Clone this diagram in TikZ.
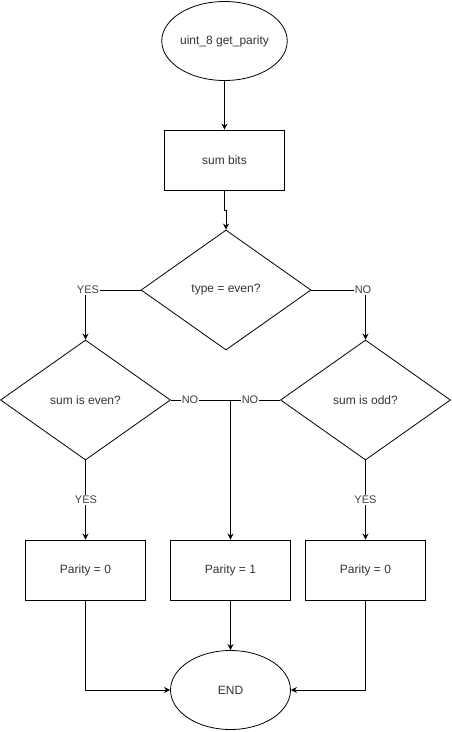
\documentclass[tikz,border=0pt]{standalone}
\usepackage{fontspec}
\setmainfont{Liberation Sans}
\usetikzlibrary{shapes.geometric,arrows.meta}
\begin{document}
\begin{tikzpicture}[x=1pt,y=-1pt,
  every node/.style={font=\fontsize{12}{14}\selectfont, text=black!80},
  term/.style={ellipse, draw=black, line width=0.8pt, minimum width=120pt, minimum height=79pt, inner sep=0pt},
  proc/.style={rectangle, draw=black, line width=0.8pt, minimum width=120pt, minimum height=60pt, inner sep=0pt},
  decide/.style={diamond, draw=black, line width=0.8pt, minimum width=170pt, minimum height=120pt, inner sep=0pt},
  lab/.style={fill=white, inner sep=1pt, font=\fontsize{11}{13}\selectfont, text=black!75},
  conn/.style={draw=black, line width=1pt},
  arr/.style={conn, -{Stealth[length=6pt,width=6pt]}}
]
\useasboundingbox (0,0) rectangle (451,732);

\node[term] (start) at (224.5,41) {uint\_8 get\_parity};
\node[proc] (sum) at (224.5,160) {sum bits};
\node[decide] (type) at (226,290) {type = even?};
\node[decide] (even) at (85.5,400) {sum is even?};
\node[decide] (odd) at (365.5,400) {sum is odd?};
\node[proc] (pl) at (85.5,570) {Parity = 0};
\node[proc] (pm) at (230.5,570) {Parity = 1};
\node[proc] (pr) at (365.5,570) {Parity = 0};
\node[term] (end) at (230.5,690) {END};

\coordinate (kink) at (224.5,210);
\coordinate (junc) at (230.5,400);

\draw[arr] (start) -- (sum);
\draw[arr] (sum.south) -- (kink) -| (type.north);

\draw[arr] (type.west) -| (even.north);
\node[lab] (yes1) at (88,290) {YES};
\draw[arr] (type.east) -| (odd.north);
\node[lab] (no1) at (363,290) {NO};

\draw[arr] (even.east) -| (pm.north);
\draw[conn] (odd.west) -- (junc);
\node[lab] (no2) at (190,400) {NO};
\node[lab] (no3) at (250,400) {NO};

\draw[arr] (even.south) -- (pl.north);
\node[lab] (yes2) at (86,500) {YES};
\draw[arr] (odd.south) -- (pr.north);
\node[lab] (yes3) at (365.5,500) {YES};

\draw[arr] (pm.south) -- (end.north);
\draw[arr] (pl.south) |- (end.west);
\draw[arr] (pr.south) |- (end.east);
\end{tikzpicture}
\end{document}
